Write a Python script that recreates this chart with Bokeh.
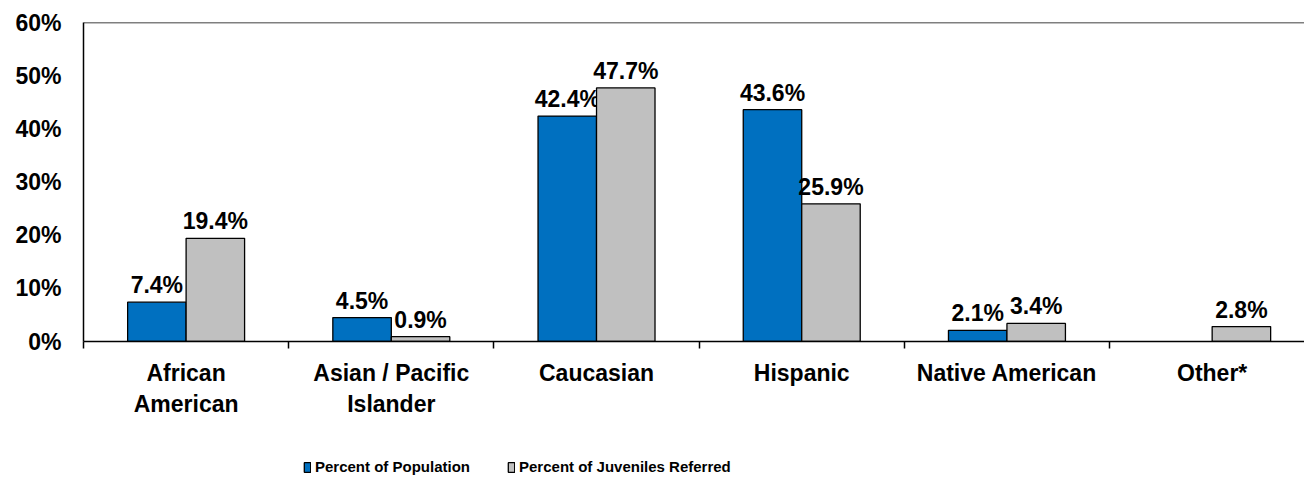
from bokeh.core.properties import value
from bokeh.embed import file_html
from bokeh.layouts import column
from bokeh.models import (ColumnDataSource, FixedTicker, Legend, LegendItem,
                          LinearAxis, Range1d, Span)
from bokeh.plotting import figure
from bokeh.resources import INLINE
from bokeh.transform import dodge

# --- data -------------------------------------------------------------------
categories = ["African\nAmerican", "Asian / Pacific\nIslander", "Caucasian",
              "Hispanic", "Native American", "Other*"]
pct_population = [7.4, 4.5, 42.4, 43.6, 2.1, None]
pct_referred = [19.4, 0.9, 47.7, 25.9, 3.4, 2.8]
y_ticks = [0, 10, 20, 30, 40, 50, 60]
series_names = ["Percent of Population", "Percent of Juveniles Referred"]

# --- styling ----------------------------------------------------------------
BLUE = "#0070C0"
GREY = "#C0C0C0"
FONT = "Liberation Sans"
BAR_W = 0.285

centers = [i + 0.5 for i in range(len(categories))]
bounds = list(range(len(categories) + 1))


def fmt(v):
    return f"{v:.1f}%"


pop_src = ColumnDataSource(dict(
    x=[c for c, v in zip(centers, pct_population) if v is not None],
    v=[v for v in pct_population if v is not None],
    t=[fmt(v) for v in pct_population if v is not None],
))
ref_src = ColumnDataSource(dict(
    x=centers,
    v=pct_referred,
    t=[fmt(v) for v in pct_referred],
))

bar_style = [dict(source=pop_src, fill_color=BLUE, off=-BAR_W / 2),
             dict(source=ref_src, fill_color=GREY, off=BAR_W / 2)]

p = figure(width=1304, height=435, output_backend="svg",
           toolbar_location=None,
           x_range=Range1d(0, 5.95), y_range=Range1d(0, y_ticks[-1]),
           x_axis_location=None, y_axis_location=None,
           min_border_left=83, min_border_right=0, min_border_top=22,
           min_border_bottom=94)
p.outline_line_color = None
p.xgrid.visible = False
p.ygrid.visible = False
p.background_fill_color = "white"
p.border_fill_color = "white"

for s in bar_style:
    p.vbar(x=dodge("x", s["off"], range=p.x_range), top="v", width=BAR_W,
           source=s["source"], fill_color=s["fill_color"],
           line_color="black", line_width=1.3)
    p.text(x=dodge("x", s["off"], range=p.x_range), y="v", text="t",
           source=s["source"],
           text_font=value(FONT), text_font_style="bold", text_font_size="23px",
           text_align="center", text_baseline="bottom", y_offset=-4,
           text_color="black")

# top border of the plot area
p.add_layout(Span(location=y_ticks[-1], dimension="width", line_color="black",
                  line_width=1.5))

# y axis
yax = LinearAxis(ticker=FixedTicker(ticks=y_ticks),
                 major_label_overrides={t: f"{t}%" for t in y_ticks},
                 major_tick_line_color=None, minor_tick_line_color=None,
                 major_tick_out=0, minor_tick_out=0,
                 axis_line_color="black", axis_line_width=1.5,
                 major_label_text_font=FONT, major_label_text_font_style="bold",
                 major_label_text_font_size="23px", major_label_standoff=22,
                 major_label_text_color="black")
p.add_layout(yax, "left")

# x axis: labels at category centres, tick marks at category boundaries
xax = LinearAxis(ticker=FixedTicker(ticks=centers, minor_ticks=bounds),
                 major_label_overrides={c: lab for c, lab in zip(centers, categories)},
                 major_tick_line_color=None,
                 minor_tick_line_color="black", minor_tick_line_width=1.5,
                 minor_tick_out=7, minor_tick_in=0,
                 axis_line_color="black", axis_line_width=1.5,
                 major_label_text_font=FONT, major_label_text_font_style="bold",
                 major_label_text_font_size="23px", major_label_standoff=11,
                 major_label_text_line_height=1.2,
                 major_label_text_color="black")
p.add_layout(xax, "below")

# legend strip under the chart; its swatches come from the same series
leg = figure(width=1304, height=42, output_backend="svg", toolbar_location=None,
             x_range=Range1d(0, 1), y_range=Range1d(0, 1),
             x_axis_location=None, y_axis_location=None,
             min_border=0, outline_line_color=None)
leg.xgrid.visible = False
leg.ygrid.visible = False
items = []
for name, s in zip(series_names, bar_style):
    r = leg.vbar(x="x", top="v", width=BAR_W, source=s["source"],
                 fill_color=s["fill_color"], line_color="black", line_width=1.3,
                 visible=False)
    items.append(LegendItem(label=name, renderers=[r]))

legend = Legend(items=items, orientation="horizontal", location=(220, 2),
                glyph_width=8, glyph_height=12, label_standoff=4, spacing=37,
                label_text_font=FONT,
                label_text_font_style="bold", label_text_font_size="15px",
                label_text_color="black",
                border_line_color=None, background_fill_alpha=0,
                padding=0, margin=0)
leg.add_layout(legend)

layout = column(p, leg, spacing=0)
open("out.html", "w").write(file_html(layout, INLINE))
